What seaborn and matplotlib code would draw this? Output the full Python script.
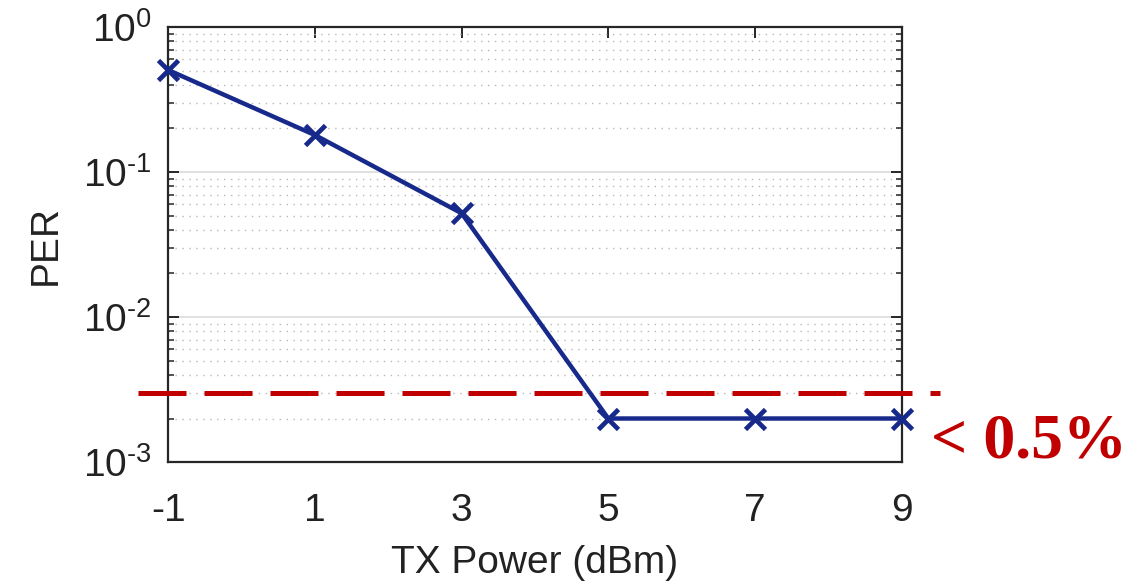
import numpy as np
import pandas as pd
import matplotlib
matplotlib.use("Agg")
import matplotlib.pyplot as plt
import seaborn as sns
from matplotlib.ticker import LogLocator, FixedLocator, NullFormatter, FuncFormatter

# data
tx_power = [-1, 1, 3, 5, 7, 9]
per = [0.505, 0.18, 0.052, 0.002, 0.002, 0.002]
threshold = 0.003
x_ticks = [-1, 1, 3, 5, 7, 9]
note = "< 0.5%"

line_color = "#17298a"
red = "#c00000"
axis_color = "#262626"

sns.set_theme(style="white")
plt.rcParams["font.family"] = ["Liberation Sans", "DejaVu Sans"]
plt.rcParams["mathtext.fontset"] = "custom"
plt.rcParams["mathtext.rm"] = "Liberation Sans"
plt.rcParams["mathtext.it"] = "Liberation Sans"
plt.rcParams["mathtext.default"] = "regular"

df = pd.DataFrame({"tx": tx_power, "per": per})

fig = plt.figure(figsize=(11.37, 5.88), dpi=100)
ax = fig.add_axes([0.148, 0.214, 0.645, 0.740])

sns.lineplot(data=df, x="tx", y="per", ax=ax, color=line_color, linewidth=3.2,
             marker="x", markersize=14, markeredgewidth=3.4,
             markeredgecolor=line_color, zorder=4, clip_on=False)

ax.set_yscale("log")
ax.set_ylim(1e-3, 1)
ax.set_xlim(-1, 9)
ax.xaxis.set_major_locator(FixedLocator(x_ticks))
ax.set_xticklabels([str(t) for t in x_ticks])
ax.yaxis.set_major_locator(LogLocator(base=10, numticks=10))
ax.yaxis.set_major_formatter(
    FuncFormatter(lambda v, p: "$10^{\\text{%d}}$" % round(np.log10(v))))
ax.yaxis.set_minor_locator(LogLocator(base=10, subs=np.arange(2, 10), numticks=10))
ax.yaxis.set_minor_formatter(NullFormatter())

ax.grid(which="major", axis="y", color="#dcdcdc", linewidth=1.2, linestyle="-")
ax.grid(which="minor", axis="y", color="#b8b8b8", linewidth=1.0, linestyle=(0, (1, 4)))
ax.grid(False, axis="x")
ax.set_axisbelow(True)

for s in ax.spines.values():
    s.set_visible(True)
    s.set_color(axis_color)
    s.set_linewidth(1.6)

ax.tick_params(which="both", direction="in", top=True, right=True, left=True,
               colors=axis_color, labelcolor="#222222")
ax.tick_params(which="major", length=8, width=1.4, labelsize=28)
ax.tick_params(axis="x", which="major", pad=22)
ax.tick_params(axis="y", which="major", pad=12)
ax.tick_params(which="minor", length=4, width=1.1)

ax.set_xlabel("TX Power (dBm)", fontsize=28, color="#222222", labelpad=12)
ax.set_ylabel("PER", fontsize=28, color="#222222", labelpad=14)

ax.axhline(threshold, xmin=-0.041, xmax=1.052, color=red, linewidth=3.6,
           dashes=(9.6, 3.6), clip_on=False, zorder=3)

ax.text(1.04, 0.045, note, transform=ax.transAxes, fontsize=46, color=red,
        fontweight="bold", family=["Liberation Serif", "DejaVu Serif"],
        ha="left", va="center")

fig.savefig("out.png", dpi=100)
